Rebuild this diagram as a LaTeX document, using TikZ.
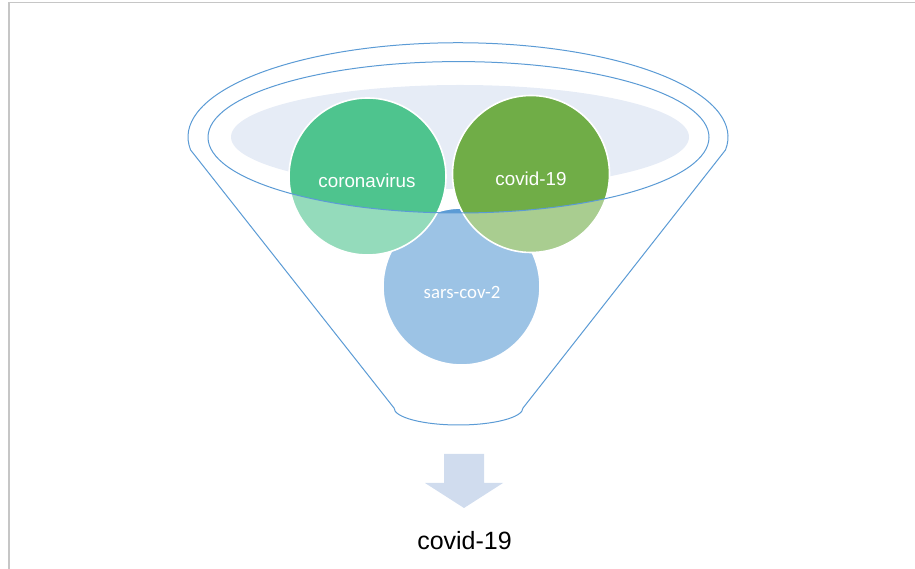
\documentclass[tikz,border=0pt]{standalone}
\usepackage{fontspec}
\setmainfont{Liberation Sans}
\newfontfamily\calibrifont{Carlito}
\definecolor{funnelblue}{HTML}{5B9BD5}
\definecolor{rimfill}{HTML}{E6ECF6}
\definecolor{corogreen}{HTML}{4EC48E}
\definecolor{covgreen}{HTML}{70AD47}
\definecolor{sarsblue}{HTML}{5B9BD5}
\definecolor{arrowfill}{HTML}{D0DCEE}
\definecolor{framegray}{HTML}{C6C6C6}
\tikzset{
  bubble/.style={circle, draw=white, line width=1.6pt, minimum size=157pt, inner sep=0pt, text=white, font=\fontsize{18.5}{20}\selectfont},
  outline/.style={draw=funnelblue, line width=1pt},
  resultlabel/.style={font=\fontsize{25}{27}\selectfont, text=black, inner sep=0pt}
}
\begin{document}
\begin{tikzpicture}[x=1pt,y=1pt]
\useasboundingbox (0,0) rectangle (915,569);
% frame
\draw[framegray, line width=1.5pt] (9,0) -- (9,566.3) -- (915,566.3);
% rim fill
\fill[rimfill] (460,432) ellipse [x radius=229, y radius=52];
% circles
\node[bubble, fill=sarsblue] (sars) at (461.5,282.5) {};
\node[bubble, fill=corogreen] (coro) at (367.5,392.5) {};
\node[bubble, fill=covgreen] (covid) at (531,395) {};
% fading overlay of funnel body
\fill[white, fill opacity=0.4, even odd rule]
  (190.6,419) arc[start angle=187.9, end angle=-7.9, x radius=270, y radius=94.3]
  -- (523,161) arc[start angle=360, end angle=180, x radius=64.5, y radius=17] -- cycle
  (458.5,431.7) ellipse [x radius=250.5, y radius=75.7];
% labels
\node[text=white, font=\fontsize{18.8}{20}\selectfont] (corolabel) at (367,388) {coronavirus};
\node[text=white, font=\fontsize{18.8}{20}\selectfont] (covidlabel) at (531,390) {covid-19};
\node[text=white, font=\calibrifont\fontsize{18.8}{20}\selectfont] (sarslabel) at (462,277) {sars-cov-2};
% funnel outlines
\draw[outline]
  (190.6,419) arc[start angle=187.9, end angle=-7.9, x radius=270, y radius=94.3]
  -- (523,161) arc[start angle=360, end angle=180, x radius=64.5, y radius=17] -- cycle;
\draw[outline] (458.5,431.7) ellipse [x radius=250.5, y radius=75.7];
% arrow
\fill[arrowfill] (444,115) -- (484,115) -- (484,86) -- (503,86) -- (464,61) -- (425,86) -- (444,86) -- cycle;
\node[resultlabel] (result) at (464.5,28) {covid-19};
\end{tikzpicture}
\end{document}
